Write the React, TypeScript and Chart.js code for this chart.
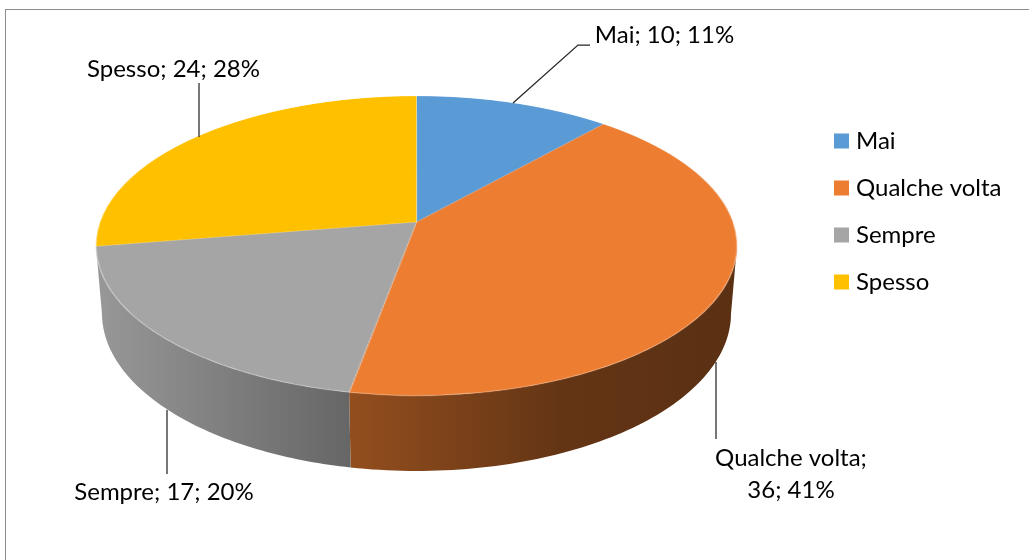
import React, { useEffect, useRef } from "react";
import { Chart, registerables } from "chart.js";

Chart.register(...registerables);

// ---- data ----
const categories = ["Mai", "Qualche volta", "Sempre", "Spesso"];
const values = [10, 36, 17, 24];
const colors = ["#5B9BD5", "#ED7D31", "#A5A5A5", "#FFC000"];

// ---- style / layout ----
const FONT = "Lato, 'Noto Sans', sans-serif";
const FONT_SIZE = 24;
const TEXT_COLOR = "#000000";
const LEADER_COLOR = "#262626";

// perspective model of the tilted disc (screen px)
const PERSP = { x0: 416.5, y0: 222, a: 316.4, b: 146, k: -0.1589, e: 68, m: 0.0185 };
// wall shading (screen x -> brightness)
const SHADE = [
  [96, 0.92],
  [350, 0.62],
  [560, 0.42],
  [738, 0.38],
];

const LEGEND = { boxX: 834, box: 15, textX: 856, firstCenter: 141, step: 47 };

const LABEL_LAYOUT = [
  { cx: 664.5, baseline: 43, wrap: false, leader: [[590, 45], [578, 45], [513, 103]] },
  { cx: 791, baseline: 466, wrap: true, leader: [[716, 439], [716, 362]] },
  { cx: 164, baseline: 500, wrap: false, leader: [[167, 474], [167, 410]] },
  { cx: 173.5, baseline: 77, wrap: false, leader: [[199, 83], [199, 137]] },
];

function project(u: number, v: number, t: number): [number, number] {
  const w = 1 + PERSP.k * v + PERSP.m * t;
  return [PERSP.x0 + (PERSP.a * u) / w, PERSP.y0 + (PERSP.b * v + PERSP.e * t) / w];
}

function hexToRgb(h: string): [number, number, number] {
  const n = parseInt(h.slice(1), 16);
  return [(n >> 16) & 255, (n >> 8) & 255, n & 255];
}

const pie3d = {
  id: "pie3d",
  afterDatasetsDraw(chart: any) {
    const meta = chart.getDatasetMeta(0);
    if (!meta || !meta.data.length) return;
    const ctx: CanvasRenderingContext2D = chart.ctx;
    const arc0 = meta.data[0];
    const cx = arc0.x;
    const cy = arc0.y;
    const R = arc0.outerRadius;
    const pad = 2;
    const S = Math.ceil(2 * R) + 2 * pad;
    const off = document.createElement("canvas");
    off.width = S;
    off.height = S;
    const octx = off.getContext("2d")!;
    octx.drawImage(chart.canvas, cx - R - pad, cy - R - pad, S, S, 0, 0, S, S);

    ctx.save();
    ctx.setTransform(1, 0, 0, 1, 0, 0);
    ctx.clearRect(cx - R - pad - 1, cy - R - pad - 1, S + 2, S + 2);

    // side walls
    const ths = Math.asin(-PERSP.k);
    meta.data.forEach((el: any, i: number) => {
      const a1 = Math.max(el.startAngle, ths);
      const a2 = Math.min(el.endAngle, Math.PI - ths);
      if (a2 <= a1) return;
      const N = 80;
      ctx.beginPath();
      for (let j = 0; j <= N; j++) {
        const th = a1 + ((a2 - a1) * j) / N;
        const [x, y] = project(Math.cos(th), Math.sin(th), 0);
        if (j === 0) ctx.moveTo(x, y);
        else ctx.lineTo(x, y);
      }
      for (let j = N; j >= 0; j--) {
        const th = a1 + ((a2 - a1) * j) / N;
        const [x, y] = project(Math.cos(th), Math.sin(th), 1);
        ctx.lineTo(x, y);
      }
      ctx.closePath();
      const [r, g, b] = hexToRgb(colors[i]);
      const x0 = SHADE[0][0];
      const x1 = SHADE[SHADE.length - 1][0];
      const grad = ctx.createLinearGradient(x0, 0, x1, 0);
      SHADE.forEach(([sx, f]) => {
        grad.addColorStop((sx - x0) / (x1 - x0), `rgb(${Math.round(r * f)},${Math.round(g * f)},${Math.round(b * f)})`);
      });
      ctx.fillStyle = grad;
      ctx.fill();
    });

    // warped top face (perspective) from the flat pie drawn by Chart.js
    ctx.imageSmoothingEnabled = true;
    const yTop = Math.floor(PERSP.y0 + (PERSP.b * -1) / (1 - PERSP.k)) - 1;
    const yBot = Math.ceil(PERSP.y0 + PERSP.b / (1 + PERSP.k)) + 1;
    for (let ys = yTop; ys <= yBot; ys++) {
      const d = ys + 0.5 - PERSP.y0;
      const v = d / (PERSP.b - PERSP.k * d);
      if (v < -1.01 || v > 1.01) continue;
      const w = 1 + PERSP.k * v;
      const half = PERSP.a / w;
      const sy = pad + R + R * v - 0.5;
      const halfS = R + pad;
      ctx.drawImage(off, 0, sy, S, 1, PERSP.x0 - (half * halfS) / R, ys, (2 * half * halfS) / R, 1);
    }
    ctx.restore();
  },
};

const decor = {
  id: "decor",
  afterDraw(chart: any) {
    const ctx: CanvasRenderingContext2D = chart.ctx;
    ctx.save();
    ctx.setTransform(1, 0, 0, 1, 0, 0);
    // chart frame
    ctx.strokeStyle = "#8C8C8C";
    ctx.lineWidth = 1;
    ctx.strokeRect(5.5, 9.5, 1100, 600);

    ctx.font = `${FONT_SIZE}px ${FONT}`;
    ctx.fillStyle = TEXT_COLOR;
    ctx.textBaseline = "alphabetic";

    // legend
    categories.forEach((c, i) => {
      const cyL = LEGEND.firstCenter + i * LEGEND.step;
      ctx.fillStyle = colors[i];
      ctx.fillRect(LEGEND.boxX, cyL - LEGEND.box / 2, LEGEND.box, LEGEND.box);
      ctx.fillStyle = TEXT_COLOR;
      ctx.textAlign = "left";
      ctx.fillText(c, LEGEND.textX, cyL + 8);
    });

    // data labels with leader lines
    const total = values.reduce((s, v) => s + v, 0);
    categories.forEach((c, i) => {
      const L = LABEL_LAYOUT[i];
      const pct = Math.round((values[i] / total) * 100);
      const lines = L.wrap ? [`${c};`, `${values[i]}; ${pct}%`] : [`${c}; ${values[i]}; ${pct}%`];
      ctx.fillStyle = TEXT_COLOR;
      ctx.textAlign = "center";
      lines.forEach((t, j) => ctx.fillText(t, L.cx, L.baseline + j * 32));
      ctx.strokeStyle = LEADER_COLOR;
      ctx.lineWidth = 1.25;
      ctx.beginPath();
      L.leader.forEach(([x, y], j) => (j === 0 ? ctx.moveTo(x, y) : ctx.lineTo(x, y)));
      ctx.stroke();
    });
    ctx.restore();
  },
};

export default function App() {
  const ref = useRef<HTMLCanvasElement | null>(null);
  useEffect(() => {
    if (!ref.current) return;
    const chart = new Chart(ref.current, {
      type: "pie",
      data: {
        labels: categories,
        datasets: [
          {
            data: values,
            backgroundColor: colors,
            borderWidth: 1,
            borderColor: "rgba(255,255,255,0.2)",
          },
        ],
      },
      options: {
        responsive: false,
        animation: false,
        events: [],
        layout: { padding: 0 },
        plugins: { legend: { display: false }, tooltip: { enabled: false } },
      },
      plugins: [pie3d, decor],
    } as any);
    return () => chart.destroy();
  }, []);
  return (
    <canvas
      ref={ref}
      width={1029}
      height={560}
      style={{ position: "fixed", left: 0, top: 0, width: 1029, height: 560 }}
    />
  );
}
